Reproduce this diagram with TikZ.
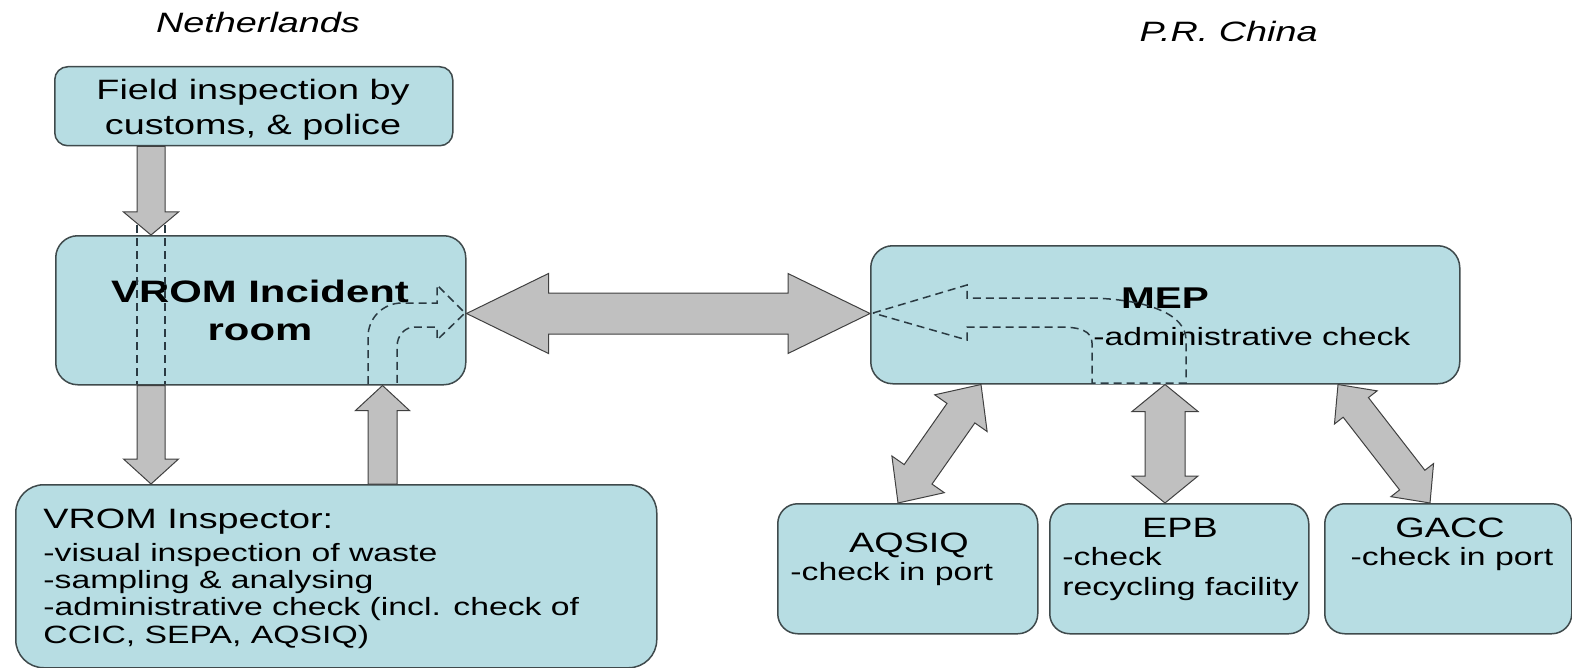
\documentclass[tikz,border=0pt]{standalone}
\usepackage{fontspec}
\setmainfont{Liberation Sans}[FakeStretch=1.35]
\usetikzlibrary{calc}
\definecolor{boxfill}{HTML}{B7DDE3}
\definecolor{boxline}{HTML}{3F4A4C}
\definecolor{arrfill}{HTML}{C0C0C0}
\definecolor{arrline}{HTML}{404040}
\definecolor{dashcol}{HTML}{2A3A42}
% double fat arrow: tips #1 and #2, half shaft #3, half head #4, head length #5
\newcommand\FatDouble[5]{%
  \path ($(#1)!#5!(#2)$) coordinate (fp1) ($(#2)!#5!(#1)$) coordinate (fp2);
  \draw[fat] (#1) -- ($(fp1)!#4!90:(#2)$) -- ($(fp1)!#3!90:(#2)$)
    -- ($(fp2)!#3!-90:(#1)$) -- ($(fp2)!#4!-90:(#1)$) -- (#2)
    -- ($(fp2)!#4!90:(#1)$) -- ($(fp2)!#3!90:(#1)$)
    -- ($(fp1)!#3!-90:(#2)$) -- ($(fp1)!#4!-90:(#2)$) -- cycle;}
% single fat arrow: tail #1, tip #2
\newcommand\FatSingle[5]{%
  \path ($(#2)!#5!(#1)$) coordinate (fp2);
  \draw[fat] ($(#1)!#3!-90:(#2)$) -- ($(fp2)!#3!90:(#1)$) -- ($(fp2)!#4!90:(#1)$)
    -- (#2) -- ($(fp2)!#4!-90:(#1)$) -- ($(fp2)!#3!-90:(#1)$)
    -- ($(#1)!#3!90:(#2)$) -- cycle;}
\newcommand\mlines[2]{\begin{tabular}[t]{@{}#1@{}}#2\end{tabular}}
\begin{document}
\begin{tikzpicture}[x=0.5pt,y=-0.5pt,
  box/.style={draw=boxline,fill=boxfill,line width=0.75pt,inner sep=0pt,anchor=north west},
  fat/.style={draw=arrline,fill=arrfill,line width=0.5pt,line join=miter},
  hidden/.style={draw=dashcol,line width=0.75pt,dash pattern=on 4pt off 2.5pt},
  txt/.style={inner sep=0pt,anchor=base},
  ttl/.style={txt,font=\fontsize{14pt}{17.25pt}\selectfont},
  body/.style={txt,font=\fontsize{12.5pt}{14.5pt}\selectfont},
  head/.style={txt,font=\itshape\fontsize{14pt}{17pt}\selectfont},
  bold/.style={txt,font=\bfseries\fontsize{15.5pt}{19pt}\selectfont}]
\useasboundingbox (0,0) rectangle (1572,668);

% boxes
\node[box,rounded corners=6.5pt,minimum width=199pt,minimum height=39.5pt] (field) at (54,66) {};
\node[box,rounded corners=11pt,minimum width=205pt,minimum height=74.5pt] (vrom) at (55,235) {};
\node[box,rounded corners=14pt,minimum width=320.5pt,minimum height=91.5pt] (insp) at (15,484) {};
\node[box,rounded corners=11pt,minimum width=294.5pt,minimum height=69pt] (mep) at (870,245) {};
\node[box,rounded corners=10pt,minimum width=130pt,minimum height=65pt] (aqsiq) at (777,503) {};
\node[box,rounded corners=10pt,minimum width=129.5pt,minimum height=65pt] (epb) at (1049,503) {};
\node[box,rounded corners=10pt,minimum width=123.5pt,minimum height=65pt] (gacc) at (1324,503) {};

% texts
\node[head] (nl) at (258,33) {Netherlands};
\node[head,anchor=base east] (cn) at (1318,42) {P.R. China};
\node[ttl] (fieldT) at (253,100) {\mlines{c}{Field inspection by\\customs, \& police}};
\node[bold] (vromT) at (260,302) {\mlines{c}{VROM Incident\\room}};
\node[body,anchor=base west,font=\fontsize{12.5pt}{13.7pt}\selectfont] (inspT) at (43,528)
  {\mlines{l}{{\fontsize{14pt}{17pt}\selectfont VROM Inspector:}\\[2.8pt]
   -visual inspection of waste\\ -sampling \& analysing\\
   -administrative check (incl. check of\\ CCIC, SEPA, AQSIQ)}};
\node[bold,font=\bfseries\fontsize{15pt}{18pt}\selectfont] (mepT) at (1165,308) {MEP};
\node[body,anchor=base west] (mepS) at (1093,345) {-administrative check};
\node[ttl] (aqT) at (909,552) {AQSIQ};
\node[body,anchor=base west] (aqS) at (790,580) {-check in port};
\node[ttl] (epbT) at (1180,537) {EPB};
\node[body,anchor=base west,font=\fontsize{12.5pt}{15pt}\selectfont] (epbS) at (1062,565) {\mlines{l}{-check\\recycling facility}};
\node[ttl] (gaT) at (1450,537) {GACC};
\node[body] (gaS) at (1452,565) {-check in port};

% helper coordinates for connector positions
\coordinate (h1) at (151,0);
\coordinate (h3) at (382.5,0);
\coordinate (h4) at (0,313.5);
\coordinate (h5a) at (981,0);
\coordinate (h5b) at (898,0);
\coordinate (h6) at (1165,0);
\coordinate (h7a) at (1338,0);
\coordinate (h7b) at (1430,0);
\coordinate (a1s) at (field.south -| h1);
\coordinate (a1e) at (vrom.north -| h1);
\coordinate (a2s) at (vrom.south -| h1);
\coordinate (a2e) at (insp.north -| h1);
\coordinate (a3s) at (insp.north -| h3);
\coordinate (a3e) at (vrom.south -| h3);
\coordinate (a4l) at (vrom.east |- h4);
\coordinate (a4r) at (mep.west |- h4);
\coordinate (a5a) at (mep.south -| h5a);
\coordinate (a5b) at (aqsiq.north -| h5b);
\coordinate (a6a) at (mep.south -| h6);
\coordinate (a6b) at (epb.north -| h6);
\coordinate (a7a) at (mep.south -| h7a);
\coordinate (a7b) at (gacc.north -| h7b);

% fat arrows
\FatSingle{a1s}{a1e}{7pt}{13.75pt}{11.5pt}
\FatSingle{a2s}{a2e}{7pt}{13.75pt}{12.5pt}
\FatSingle{a3s}{a3e}{7.25pt}{13.5pt}{12.5pt}
\FatDouble{a4l}{a4r}{10.25pt}{20pt}{41pt}
\FatDouble{a5a}{a5b}{8.5pt}{16pt}{17.5pt}
\FatDouble{a6a}{a6b}{10pt}{16.5pt}{13.5pt}
\FatDouble{a7a}{a7b}{8pt}{13.5pt}{14.5pt}

% hidden (dashed) arrow outlines
\draw[hidden] (137,225) -- (137,384);
\draw[hidden] (165,225) -- (165,384);
\draw[hidden] (368,384) -- (368,337) .. controls (368,318) and (383,303) .. (402,303)
  -- (437,303) -- (437,285) -- (465,313) -- (437,340) -- (437,327) -- (415,327)
  .. controls (405,327) and (397,335) .. (397,347) -- (397,384);
\draw[boxfill,line width=1pt] (1092,383) -- (1186,383);
\draw[hidden] (873,313) -- (967,285) -- (967,298) -- (1093,298)
  .. controls (1150,300) and (1186,315) .. (1186,340) -- (1186,383) -- (1092,383)
  -- (1092,343) .. controls (1092,331) and (1080,327) .. (1060,327)
  -- (967,327) -- (967,340) -- cycle;
\end{tikzpicture}
\end{document}
